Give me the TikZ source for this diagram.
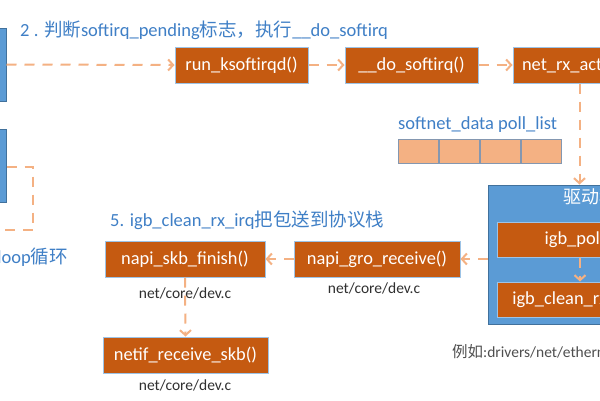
\documentclass[tikz,border=0pt]{standalone}
\usepackage{fontspec}
\setmainfont{Carlito}
\newfontfamily\cjk{Noto Sans CJK SC}
\usetikzlibrary{arrows.meta}
\definecolor{fnfill}{HTML}{C55A11}
\definecolor{fnedge}{HTML}{9DC3E6}
\definecolor{drvfill}{HTML}{5B9BD5}
\definecolor{drvedge}{HTML}{41719C}
\definecolor{flowc}{HTML}{F4B183}
\definecolor{cellfill}{HTML}{F4B183}
\definecolor{celledge}{HTML}{8497B0}
\definecolor{labblue}{HTML}{3F7FC6}
\definecolor{labgray}{HTML}{303030}
\tikzset{
  fnbox/.style={draw=fnedge, line width=1pt, fill=fnfill, text=white, inner sep=0pt,
    minimum height=36pt, font=\fontsize{18.4}{20}\selectfont},
  drvbox/.style={draw=drvedge, line width=1pt, fill=drvfill, inner sep=0pt},
  leftbox/.style={draw=drvedge, line width=1pt, fill=drvfill, inner sep=0pt,
    minimum width=26pt, minimum height=73pt},
  cellbox/.style={draw=celledge, line width=1pt, fill=cellfill, inner sep=0pt,
    minimum width=40pt, minimum height=24pt},
  flow/.style={draw=flowc, line width=2pt, dash pattern=on 10pt off 8pt,
    -{Straight Barb[length=5pt,width=11pt]}},
  loopline/.style={draw=flowc, line width=2pt, dash pattern=on 10pt off 8pt},
  bluelab/.style={text=labblue, inner sep=0pt, font=\fontsize{18.5}{20}\selectfont},
  graylab/.style={text=labgray, inner sep=0pt, font=\fontsize{15.5}{17}\selectfont},
}
\begin{document}
\begin{tikzpicture}[x=1pt,y=-1pt]
\useasboundingbox (0,0) rectangle (600,400);
\clip (0,0) rectangle (600,400);
\fill[white] (0,0) rectangle (600,400);

% left blue boxes
\node[leftbox] (l1) at (-7,64.5) {};
\node[leftbox] (l2) at (-7,166) {};

% title
\node[bluelab, anchor=west] (t2) at (20,30)
  {2 . {\cjk 判断}softirq\_pending{\cjk 标志，执行}\_\_do\_softirq};

% top row
\node[fnbox, minimum width=133pt] (rk) at (241.5,65) {run\_ksoftirqd()};
\node[fnbox, minimum width=133pt] (ds) at (411.5,65) {\_\_do\_softirq()};
\node[fnbox, minimum width=133pt] (nr) at (579.5,65) {net\_rx\_action()};

% softnet data
\node[bluelab, anchor=west] (sd) at (398,125) {softnet\_data poll\_list};
\node[cellbox] (c1) at (418.5,151) {};
\node[cellbox] (c2) at (459.5,151) {};
\node[cellbox] (c3) at (500.5,151) {};
\node[cellbox] (c4) at (541.5,151) {};

% driver box
\node[drvbox, minimum width=184pt, minimum height=139pt] (drv) at (580,254.5) {};
\node[anchor=west, text=white, inner sep=0pt, font=\fontsize{18}{20}\selectfont] (drvt) at (563,197) {\cjk 驱动程序};
\node[fnbox, minimum width=166pt, minimum height=35pt] (ip) at (580,239.5) {igb\_poll()};
\node[fnbox, minimum width=166pt, minimum height=35pt] (ic) at (580,299.5) {igb\_clean\_rx\_irq()};

% lower row
\node[bluelab, anchor=west] (t5) at (110,220) {5. igb\_clean\_rx\_irq{\cjk 把包送到协议栈}};
\node[fnbox, minimum width=166pt] (ng) at (377,259) {napi\_gro\_receive()};
\node[fnbox, minimum width=160pt] (ns) at (185,259) {napi\_skb\_finish()};
\node[fnbox, minimum width=165pt] (nf) at (185.5,355) {netif\_receive\_skb()};

\node[graylab] (lng) at (374,288) {net/core/dev.c};
\node[graylab] (lns) at (185,293) {net/core/dev.c};
\node[graylab] (lnf) at (185,385) {net/core/dev.c};
\node[graylab, anchor=west, text=labgray!85] (ex) at (452,352)
  {{\cjk 例如}:drivers/net/ethernet/intel/igb/igb\_main.c};

\node[bluelab, anchor=east] (lp) at (68,257) {loop{\cjk 循环}};

% connectors
\draw[flow] (l1.east) -- (rk.west);
\draw[flow] (rk.east) -- (ds.west);
\draw[flow] (ds.east) -- (nr.west);
\draw[flow] (nr.south) -- (nr.south |- drv.north);
\draw[flow] (ip.south) -- (ic.north);
\draw[flow] (drv.west |- ng) -- (ng.east);
\draw[flow] (ng.west) -- (ns.east);
\draw[flow] (ns.south) -- (nf.north);

\coordinate (lpa) at (33,167);
\coordinate (lpb) at (33,230);
\coordinate (lpc) at (-20,230);
\draw[loopline] (l2.east |- lpa) -- (lpa) -- (lpb) -- (lpc);
\end{tikzpicture}
\end{document}
